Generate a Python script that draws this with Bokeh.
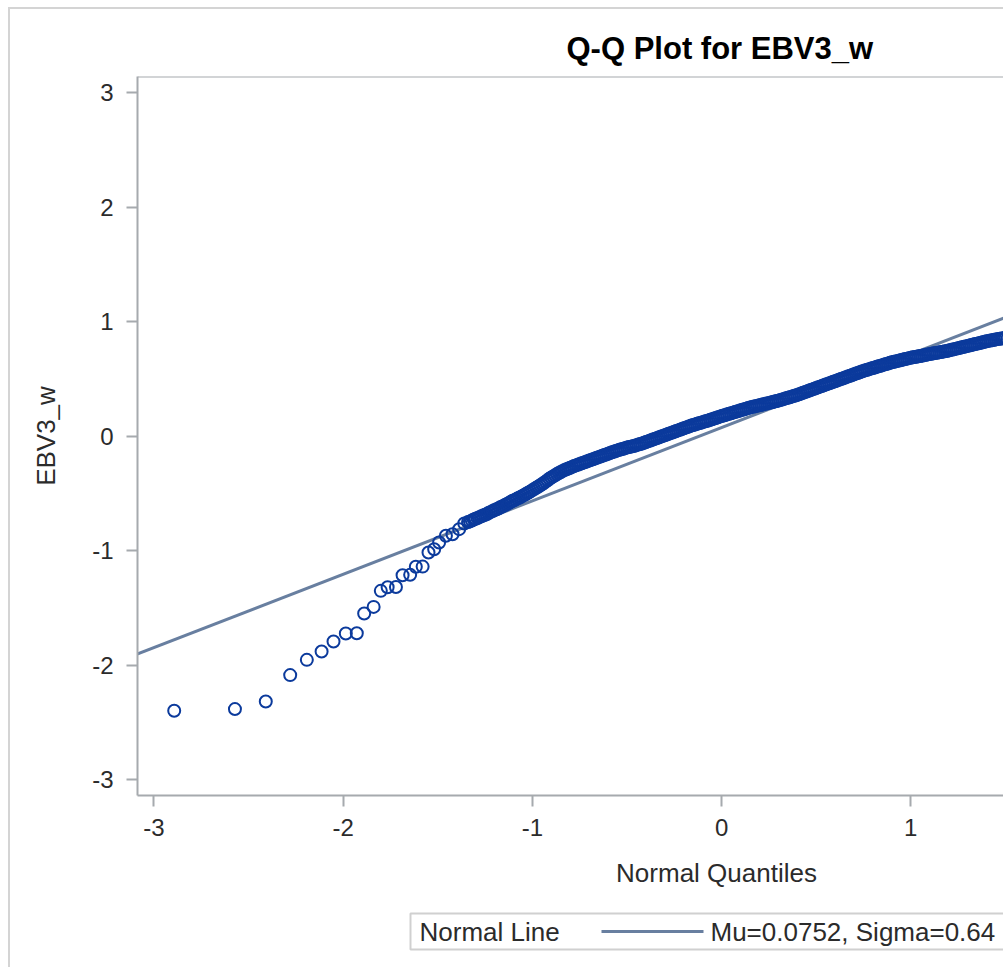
from bokeh.plotting import figure
from bokeh.layouts import column
from bokeh.models import Range1d, FixedTicker, Span
from bokeh.core.properties import value
from bokeh.embed import file_html
from bokeh.resources import INLINE

# ---------------- data ----------------
title_text = "Q-Q Plot for EBV3_w"
x_label = "Normal Quantiles"
y_label = "EBV3_w"
x_ticks = [-3, -2, -1, 0, 1, 2, 3]
y_ticks = [-3, -2, -1, 0, 1, 2, 3]
tick_text = {-3: "-3", -2: "-2", -1: "-1", 0: "0", 1: "1", 2: "2", 3: "3"}
mu = 0.0752
sigma = 0.641
legend_title = "Normal Line"
legend_label = "Mu=0.0752, Sigma=0.64"

# lower tail (separate circles)
tail_q = [-2.893, -2.572, -2.409, -2.280, -2.192, -2.114, -2.051, -1.986, -1.928,
          -1.889, -1.839, -1.801, -1.765, -1.721, -1.686, -1.646, -1.616, -1.580,
          -1.549, -1.519, -1.493, -1.457, -1.422, -1.387, -1.360]
tail_v = [-2.400, -2.385, -2.319, -2.088, -1.955, -1.882, -1.795, -1.725, -1.722,
          -1.550, -1.492, -1.352, -1.320, -1.318, -1.215, -1.212, -1.142, -1.140,
          -1.017, -0.988, -0.929, -0.871, -0.857, -0.813, -0.764]

# dense band of points
band_q = [
    -1.34, -1.33, -1.32, -1.31, -1.30, -1.29, -1.28, -1.27, -1.26, -1.25,
    -1.24, -1.23, -1.22, -1.21, -1.20, -1.19, -1.18, -1.17, -1.16, -1.15,
    -1.14, -1.13, -1.12, -1.11, -1.10, -1.09, -1.08, -1.07, -1.06, -1.05,
    -1.04, -1.03, -1.02, -1.01, -1.00, -0.99, -0.98, -0.97, -0.96, -0.95,
    -0.94, -0.93, -0.92, -0.91, -0.90, -0.89, -0.88, -0.87, -0.86, -0.85,
    -0.84, -0.83, -0.82, -0.81, -0.80, -0.79, -0.78, -0.77, -0.76, -0.75,
    -0.74, -0.73, -0.72, -0.71, -0.70, -0.69, -0.68, -0.67, -0.66, -0.65,
    -0.64, -0.63, -0.62, -0.61, -0.60, -0.59, -0.58, -0.57, -0.56, -0.55,
    -0.54, -0.53, -0.52, -0.51, -0.50, -0.49, -0.48, -0.47, -0.46, -0.45,
    -0.44, -0.43, -0.42, -0.41, -0.40, -0.39, -0.38, -0.37, -0.36, -0.35,
    -0.34, -0.33, -0.32, -0.31, -0.30, -0.29, -0.28, -0.27, -0.26, -0.25,
    -0.24, -0.23, -0.22, -0.21, -0.20, -0.19, -0.18, -0.17, -0.16, -0.15,
    -0.14, -0.13, -0.12, -0.11, -0.10, -0.09, -0.08, -0.07, -0.06, -0.05,
    -0.04, -0.03, -0.02, -0.01, 0.00, 0.01, 0.02, 0.03, 0.04, 0.05,
    0.06, 0.07, 0.08, 0.09, 0.10, 0.11, 0.12, 0.13, 0.14, 0.15,
    0.16, 0.17, 0.18, 0.19, 0.20, 0.21, 0.22, 0.23, 0.24, 0.25,
    0.26, 0.27, 0.28, 0.29, 0.30, 0.31, 0.32, 0.33, 0.34, 0.35,
    0.36, 0.37, 0.38, 0.39, 0.40, 0.41, 0.42, 0.43, 0.44, 0.45,
    0.46, 0.47, 0.48, 0.49, 0.50, 0.51, 0.52, 0.53, 0.54, 0.55,
    0.56, 0.57, 0.58, 0.59, 0.60, 0.61, 0.62, 0.63, 0.64, 0.65,
    0.66, 0.67, 0.68, 0.69, 0.70, 0.71, 0.72, 0.73, 0.74, 0.75,
    0.76, 0.77, 0.78, 0.79, 0.80, 0.81, 0.82, 0.83, 0.84, 0.85,
    0.86, 0.87, 0.88, 0.89, 0.90, 0.91, 0.92, 0.93, 0.94, 0.95,
    0.96, 0.97, 0.98, 0.99, 1.00, 1.01, 1.02, 1.03, 1.04, 1.05,
    1.06, 1.07, 1.08, 1.09, 1.10, 1.11, 1.12, 1.13, 1.14, 1.15,
    1.16, 1.17, 1.18, 1.19, 1.20, 1.21, 1.22, 1.23, 1.24, 1.25,
    1.26, 1.27, 1.28, 1.29, 1.30, 1.31, 1.32, 1.33, 1.34, 1.35,
    1.36, 1.37, 1.38, 1.39, 1.40, 1.41, 1.42, 1.43, 1.44, 1.45,
    1.46, 1.47, 1.48, 1.49, 1.50]
band_v = [
    -0.750, -0.745, -0.738, -0.729, -0.722, -0.716, -0.708, -0.700, -0.694, -0.688,
    -0.680, -0.670, -0.662, -0.655, -0.646, -0.640, -0.632, -0.622, -0.615, -0.607,
    -0.598, -0.590, -0.580, -0.570, -0.562, -0.555, -0.546, -0.538, -0.530, -0.520,
    -0.512, -0.502, -0.492, -0.483, -0.472, -0.462, -0.452, -0.443, -0.432, -0.421,
    -0.410, -0.398, -0.386, -0.373, -0.362, -0.352, -0.342, -0.332, -0.322, -0.313,
    -0.304, -0.297, -0.290, -0.283, -0.276, -0.269, -0.262, -0.256, -0.250, -0.244,
    -0.238, -0.232, -0.226, -0.220, -0.214, -0.208, -0.202, -0.196, -0.190, -0.184,
    -0.178, -0.172, -0.166, -0.160, -0.154, -0.148, -0.142, -0.136, -0.130, -0.125,
    -0.120, -0.115, -0.110, -0.105, -0.100, -0.096, -0.092, -0.088, -0.084, -0.079,
    -0.074, -0.069, -0.064, -0.058, -0.052, -0.046, -0.040, -0.034, -0.028, -0.022,
    -0.016, -0.010, -0.004, 0.002, 0.008, 0.014, 0.020, 0.026, 0.032, 0.038,
    0.044, 0.050, 0.056, 0.062, 0.068, 0.074, 0.080, 0.086, 0.092, 0.097,
    0.102, 0.107, 0.112, 0.117, 0.122, 0.127, 0.132, 0.137, 0.142, 0.147,
    0.153, 0.158, 0.164, 0.170, 0.175, 0.180, 0.185, 0.190, 0.195, 0.200,
    0.205, 0.210, 0.215, 0.220, 0.225, 0.230, 0.235, 0.240, 0.245, 0.250,
    0.254, 0.258, 0.262, 0.266, 0.270, 0.274, 0.278, 0.282, 0.286, 0.290,
    0.294, 0.298, 0.302, 0.306, 0.310, 0.315, 0.320, 0.325, 0.330, 0.335,
    0.340, 0.345, 0.350, 0.355, 0.360, 0.366, 0.372, 0.378, 0.384, 0.390,
    0.396, 0.402, 0.408, 0.414, 0.420, 0.426, 0.432, 0.438, 0.444, 0.450,
    0.456, 0.462, 0.468, 0.474, 0.480, 0.486, 0.492, 0.498, 0.504, 0.510,
    0.516, 0.522, 0.528, 0.534, 0.540, 0.546, 0.552, 0.558, 0.564, 0.570,
    0.575, 0.580, 0.585, 0.590, 0.595, 0.600, 0.605, 0.610, 0.615, 0.620,
    0.625, 0.630, 0.635, 0.640, 0.645, 0.649, 0.653, 0.657, 0.661, 0.665,
    0.669, 0.673, 0.677, 0.681, 0.685, 0.688, 0.691, 0.694, 0.697, 0.700,
    0.703, 0.706, 0.710, 0.714, 0.717, 0.720, 0.723, 0.726, 0.729, 0.732,
    0.735, 0.738, 0.741, 0.744, 0.748, 0.752, 0.756, 0.760, 0.764, 0.768,
    0.772, 0.776, 0.780, 0.784, 0.788, 0.792, 0.796, 0.800, 0.804, 0.808,
    0.812, 0.816, 0.820, 0.824, 0.828, 0.832, 0.835, 0.838, 0.842, 0.845,
    0.848, 0.851, 0.853, 0.856, 0.858]

# normal reference line from mu and sigma over the axis extent
line_q = [-3.2, 3.2]
line_v = [mu + sigma * q for q in line_q]

# ---------------- styling ----------------
FONT = "Liberation Sans"
AXIS_COLOR = "#a6aaae"
TEXT_COLOR = "#2b2b2b"
MARKER_COLOR = "#0b3a9c"
LINE_COLOR = "#687fa0"

W = 993
H_MAIN = 850
H_LOW = 108
FRAME_LEFT = 127

p = figure(width=W, height=H_MAIN,
           x_range=Range1d(-3.087, 1.490), y_range=Range1d(-3.140, 3.142),
           output_backend="svg", toolbar_location=None,
           min_border_left=FRAME_LEFT, min_border_right=0,
           min_border_top=67, min_border_bottom=H_MAIN - 786)
p.outline_line_color = None
p.grid.visible = False
p.background_fill_color = "white"
p.border_fill_color = "white"

p.title.text = title_text
p.title.align = "left"
p.title.offset = 429
p.title.text_font = FONT
p.title.text_font_size = "31px"
p.title.text_font_style = "bold"
p.title.text_color = "#000000"
p.title.standoff = 22

for ax in (p.xaxis[0], p.yaxis[0]):
    ax.axis_line_color = AXIS_COLOR
    ax.axis_line_width = 2
    ax.major_tick_line_color = AXIS_COLOR
    ax.major_tick_line_width = 2
    ax.major_tick_in = 0
    ax.major_tick_out = 11
    ax.minor_tick_line_color = None
    ax.major_label_text_font = FONT
    ax.major_label_text_font_size = "24px"
    ax.major_label_text_color = TEXT_COLOR
    ax.major_label_overrides = tick_text
    ax.axis_label_text_font = FONT
    ax.axis_label_text_font_size = "26px"
    ax.axis_label_text_font_style = "normal"
    ax.axis_label_text_color = TEXT_COLOR

p.xaxis[0].ticker = FixedTicker(ticks=x_ticks)
p.yaxis[0].ticker = FixedTicker(ticks=y_ticks)
p.yaxis[0].axis_label = y_label
p.xaxis[0].major_label_standoff = 12
p.yaxis[0].major_label_standoff = 13
p.yaxis[0].axis_label_standoff = 28

# top frame line
p.add_layout(Span(location=3.142, dimension="width", line_color=AXIS_COLOR, line_width=2))

# normal line
p.line(line_q, line_v, line_color=LINE_COLOR, line_width=3)

# points
p.scatter(tail_q + band_q, tail_v + band_v, marker="circle", size=12,
          fill_color=None, line_color=MARKER_COLOR, line_width=2)

# ---------- lower strip: x-axis title and legend (pixel coordinates) ----------
lg = figure(width=W, height=H_LOW, x_range=Range1d(FRAME_LEFT, W), y_range=Range1d(0, H_LOW),
            output_backend="svg", toolbar_location=None,
            x_axis_location=None, y_axis_location=None,
            min_border_left=FRAME_LEFT, min_border_right=0, min_border_top=0, min_border_bottom=0)
lg.outline_line_color = None
lg.grid.visible = False
lg.background_fill_color = "white"
lg.border_fill_color = "white"

lg.text(x=[706], y=[95], text=[x_label], text_font=value(FONT),
        text_font_size="26px", text_color=TEXT_COLOR, text_baseline="middle",
        text_align="center")

lg.quad(left=[400], right=[1100], bottom=[18], top=[54], fill_color="white",
        line_color="#d0d0d0", line_width=2)
lg.text(x=[409], y=[36], text=[legend_title], text_font=value(FONT),
        text_font_size="26px", text_color=TEXT_COLOR, text_baseline="middle",
        text_align="left")
lg.line(x=[591, 693], y=[36, 36], line_color=LINE_COLOR, line_width=3)
lg.text(x=[700], y=[36], text=[legend_label], text_font=value(FONT),
        text_font_size="26px", text_color=TEXT_COLOR, text_baseline="middle",
        text_align="left")

layout = column(p, lg, spacing=0)
layout.styles = {"margin-left": "8px", "margin-top": "7px",
                 "border-left": "2px solid #d4d4d4", "border-top": "2px solid #d4d4d4"}

open("out.html", "w").write(file_html(layout, INLINE))
